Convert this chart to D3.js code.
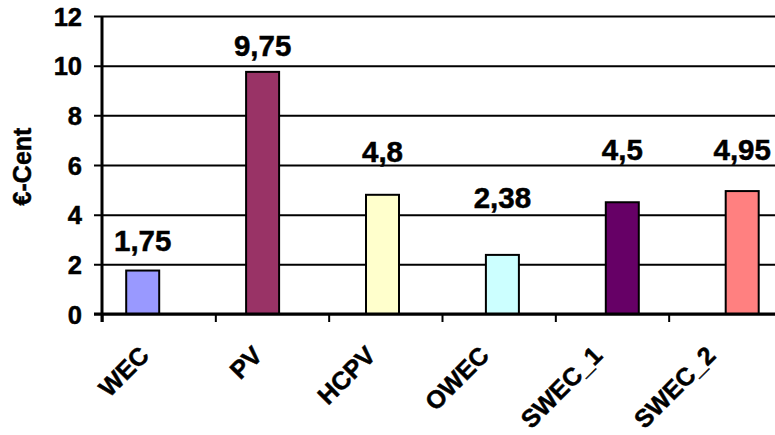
<!DOCTYPE html>
<html>
<head>
<meta charset="utf-8">
<script src="https://cdn.jsdelivr.net/npm/d3@7"></script>
<style>
  html, body { margin: 0; padding: 0; background: #fff; }
  svg { display: block; }
  text { font-family: "Liberation Sans", Arial, sans-serif; font-weight: bold; fill: #000; stroke: #000; stroke-width: 0.5px; }
</style>
</head>
<body>
<svg id="chart" width="775" height="435"></svg>
<script>
// Cost per kWh (€-Cent) for each generation technology
const categories = ["WEC", "PV", "HCPV", "OWEC", "SWEC_1", "SWEC_2"];
const values = [1.75, 9.75, 4.8, 2.38, 4.5, 4.95];
const valueLabels = ["1,75", "9,75", "4,8", "2,38", "4,5", "4,95"];
const barColors = ["#9999FF", "#993366", "#FFFFCC", "#CCFFFF", "#660066", "#FF8080"];
const yTicks = [0, 2, 4, 6, 8, 10, 12];
const yTitle = "€-Cent";

// Extra lift (px) of each value label above its bar top
const labelLift = [20, 16, 33, 47, 42, 31];

const svg = d3.select("#chart");
const W = 775;

const y = d3.scaleLinear().domain([0, 12]).range([314, 16]);
// category slots for the axis ticks / labels
const xSlot = d3.scaleBand().domain(categories).range([102.5, 782.5]);
// bar centres
const xBar = d3.scalePoint().domain(categories).range([142.7, 742.2]);
const barW = 33;

// gridlines (with tick stubs left of the axis)
const grid = svg.append("g").attr("transform", "translate(94,0)")
  .call(d3.axisLeft(y).tickValues(yTicks).tickSize(-(W - 94)).tickSizeOuter(0).tickPadding(12).tickFormat(d3.format("d")));
grid.select(".domain").remove();
grid.selectAll(".tick line").attr("stroke", "#000").attr("stroke-width", 2);
grid.selectAll(".tick text")
  .style("font-size", "25.5px")
  .style("font-family", '"Liberation Sans", Arial, sans-serif')
  .style("font-weight", "bold")
  .attr("fill", "#000")
  .attr("dy", "0.36em");

// bars
svg.append("g").selectAll("rect")
  .data(categories)
  .join("rect")
  .attr("x", d => xBar(d) - barW / 2)
  .attr("y", (d, i) => y(values[i]))
  .attr("width", barW)
  .attr("height", (d, i) => y(0) - y(values[i]))
  .attr("fill", (d, i) => barColors[i])
  .attr("stroke", "#000")
  .attr("stroke-width", 2);

// axes lines
svg.append("line").attr("x1", 102).attr("x2", 102).attr("y1", y(12)).attr("y2", 322)
  .attr("stroke", "#000").attr("stroke-width", 3);
svg.append("line").attr("x1", 94).attr("x2", W).attr("y1", y(0)).attr("y2", y(0))
  .attr("stroke", "#000").attr("stroke-width", 3);

// category tick marks at slot boundaries
svg.append("g").selectAll("line")
  .data(categories)
  .join("line")
  .attr("x1", d => xSlot(d)).attr("x2", d => xSlot(d))
  .attr("y1", y(0)).attr("y2", 322)
  .attr("stroke", "#000").attr("stroke-width", 2);

// category labels, rotated
svg.append("g").selectAll("text")
  .data(categories)
  .join("text")
  .attr("transform", d => `translate(${xSlot(d) + 48},${y(0) + 43}) rotate(-45)`)
  .attr("text-anchor", "end")
  .style("font-size", "25px")
  .text(d => d);

// value labels
svg.append("g").selectAll("text")
  .data(categories)
  .join("text")
  .attr("x", d => xBar(d))
  .attr("y", (d, i) => y(values[i]) - labelLift[i])
  .attr("text-anchor", "middle")
  .style("font-size", "29.5px")
  .text((d, i) => valueLabels[i]);

// y-axis title
svg.append("text")
  .attr("transform", `translate(31,${(125 + 208) / 2}) rotate(-90)`)
  .attr("text-anchor", "middle")
  .style("font-size", "25px")
  .text(yTitle);
</script>
</body>
</html>
